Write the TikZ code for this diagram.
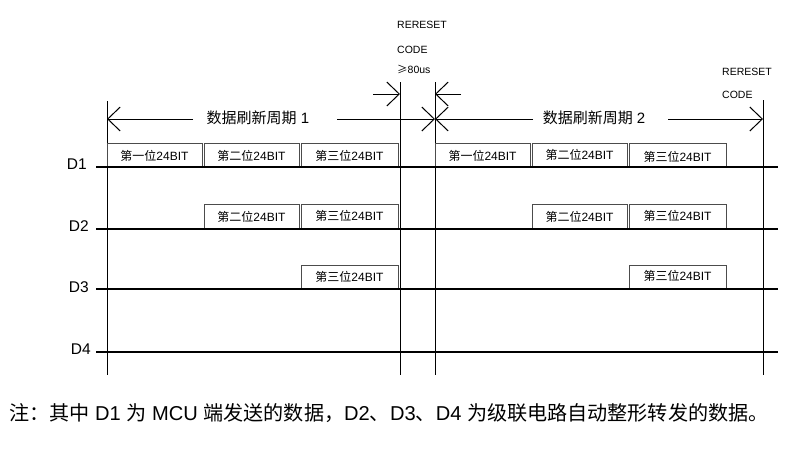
\documentclass[tikz,border=0pt]{standalone}
\usepackage{fontspec}
\setmainfont{Liberation Sans}
\newfontfamily\cjk{Noto Sans CJK SC}
\usetikzlibrary{arrows.meta}
\tikzset{
  sig/.style={line width=2pt, black},
  vline/.style={line width=1pt, black},
  bitbox/.style={draw=black!70, line width=0.9pt},
  bittext/.style={font=\fontsize{12}{14}\selectfont, inner sep=0pt},
  dlabel/.style={font=\fontsize{15.5}{18}\selectfont, inner sep=0pt, anchor=base east},
  toptext/.style={font=\fontsize{10.5}{12}\selectfont, inner sep=0pt, anchor=base west},
  period/.style={font=\fontsize{15}{18}\selectfont, inner sep=0pt},
  barb/.style={line width=1pt, -{Straight Barb[length=12.5pt,width=24pt]}},
}
\newcommand{\bitlabel}[1]{{\cjk #1位}24BIT}
\begin{document}
\begin{tikzpicture}[x=1pt,y=-1pt]
\useasboundingbox (0,0) rectangle (799,455);
\fill[white] (0,0) rectangle (799,455);

% vertical lines
\coordinate (v1t) at (107,101); \coordinate (v1b) at (107,375);
\coordinate (v2t) at (400,82);  \coordinate (v2b) at (400,375);
\coordinate (v3t) at (435,82);  \coordinate (v3b) at (435,375);
\coordinate (v4t) at (763,100); \coordinate (v4b) at (763,375);
\draw[vline] (v1t) -- (v1b);
\draw[vline] (v2t) -- (v2b);
\draw[vline] (v3t) -- (v3b);
\draw[vline] (v4t) -- (v4b);

% top texts
\node[toptext] (r1) at (397,28.5) {RERESET};
\node[toptext] (c1) at (397,53) {CODE};
\node[toptext] (g1) at (397,73) {{\cjk ≥}80us};
\node[toptext] (r2) at (722,75) {RERESET};
\node[toptext] (c2) at (722,98) {CODE};

% reset code arrows
\coordinate (ra) at (373,94); \coordinate (rb) at (400,94);
\coordinate (rc) at (461,94); \coordinate (rd) at (435,94);
\draw[barb] (ra) -- (rb);
\draw[barb] (rc) -- (rd);

% period arrows
\coordinate (p1a) at (107,119); \coordinate (p1b) at (435,119);
\coordinate (g1a) at (193,119); \coordinate (g1b) at (337,119);
\coordinate (p2a) at (435,119); \coordinate (p2b) at (763,119);
\coordinate (g2a) at (533,119); \coordinate (g2b) at (668,119);
\draw[barb] (g1a) -- (p1a);
\draw[barb] (g1b) -- (p1b);
\draw[barb] (g2a) -- (p2a);
\draw[barb] (g2b) -- (p2b);
\node[period] (t1) at (258,118) {{\cjk 数据刷新周期} 1};
\node[period] (t2) at (594,118) {{\cjk 数据刷新周期} 2};

% D1
\draw[bitbox] (107,143) rectangle (202,167); \node[bittext] (a11) at (154.5,156) {\bitlabel{第一}};
\draw[bitbox] (204,143) rectangle (299,167); \node[bittext] (a12) at (251.5,156) {\bitlabel{第二}};
\draw[bitbox] (301,143) rectangle (398,167); \node[bittext] (a13) at (349.5,156) {\bitlabel{第三}};
\draw[bitbox] (435,143) rectangle (530,167); \node[bittext] (a21) at (482.5,156) {\bitlabel{第一}};
\draw[bitbox] (532,143) rectangle (627,167); \node[bittext] (a22) at (579.5,155) {\bitlabel{第二}};
\draw[bitbox] (629,143) rectangle (726,167); \node[bittext] (a23) at (677.5,157) {\bitlabel{第三}};
% D2
\draw[bitbox] (204,204) rectangle (299,229); \node[bittext] (b12) at (251.5,217) {\bitlabel{第二}};
\draw[bitbox] (301,204) rectangle (398,229); \node[bittext] (b13) at (349.5,216) {\bitlabel{第三}};
\draw[bitbox] (532,204) rectangle (627,229); \node[bittext] (b22) at (579.5,217) {\bitlabel{第二}};
\draw[bitbox] (629,204) rectangle (726,229); \node[bittext] (b23) at (677.5,216) {\bitlabel{第三}};
% D3
\draw[bitbox] (301,265) rectangle (398,289); \node[bittext] (c13) at (349.5,277) {\bitlabel{第三}};
\draw[bitbox] (629,265) rectangle (726,289); \node[bittext] (c23) at (677.5,276) {\bitlabel{第三}};

% signal lines
\coordinate (d1a) at (96,167); \coordinate (d1b) at (778,167);
\coordinate (d2a) at (96,229); \coordinate (d2b) at (778,229);
\coordinate (d3a) at (96,289); \coordinate (d3b) at (778,289);
\coordinate (d4a) at (96,352); \coordinate (d4b) at (778,352);
\draw[sig] (d1a) -- (d1b);
\draw[sig] (d2a) -- (d2b);
\draw[sig] (d3a) -- (d3b);
\draw[sig] (d4a) -- (d4b);
\node[dlabel] (l1) at (87,169) {D1};
\node[dlabel] (l2) at (89,231) {D2};
\node[dlabel] (l3) at (89,292) {D3};
\node[dlabel] (l4) at (91,354) {D4};

% note
\node[font=\fontsize{20.1}{24}\selectfont, inner sep=0pt, anchor=base west] (note) at (9,420)
  {{\cjk 注：其中} D1 {\cjk 为} MCU {\cjk 端发送的数据，}D2{\cjk 、}D3{\cjk 、}D4 {\cjk 为级联电路自动整形转发的数据。}};
\end{tikzpicture}
\end{document}
